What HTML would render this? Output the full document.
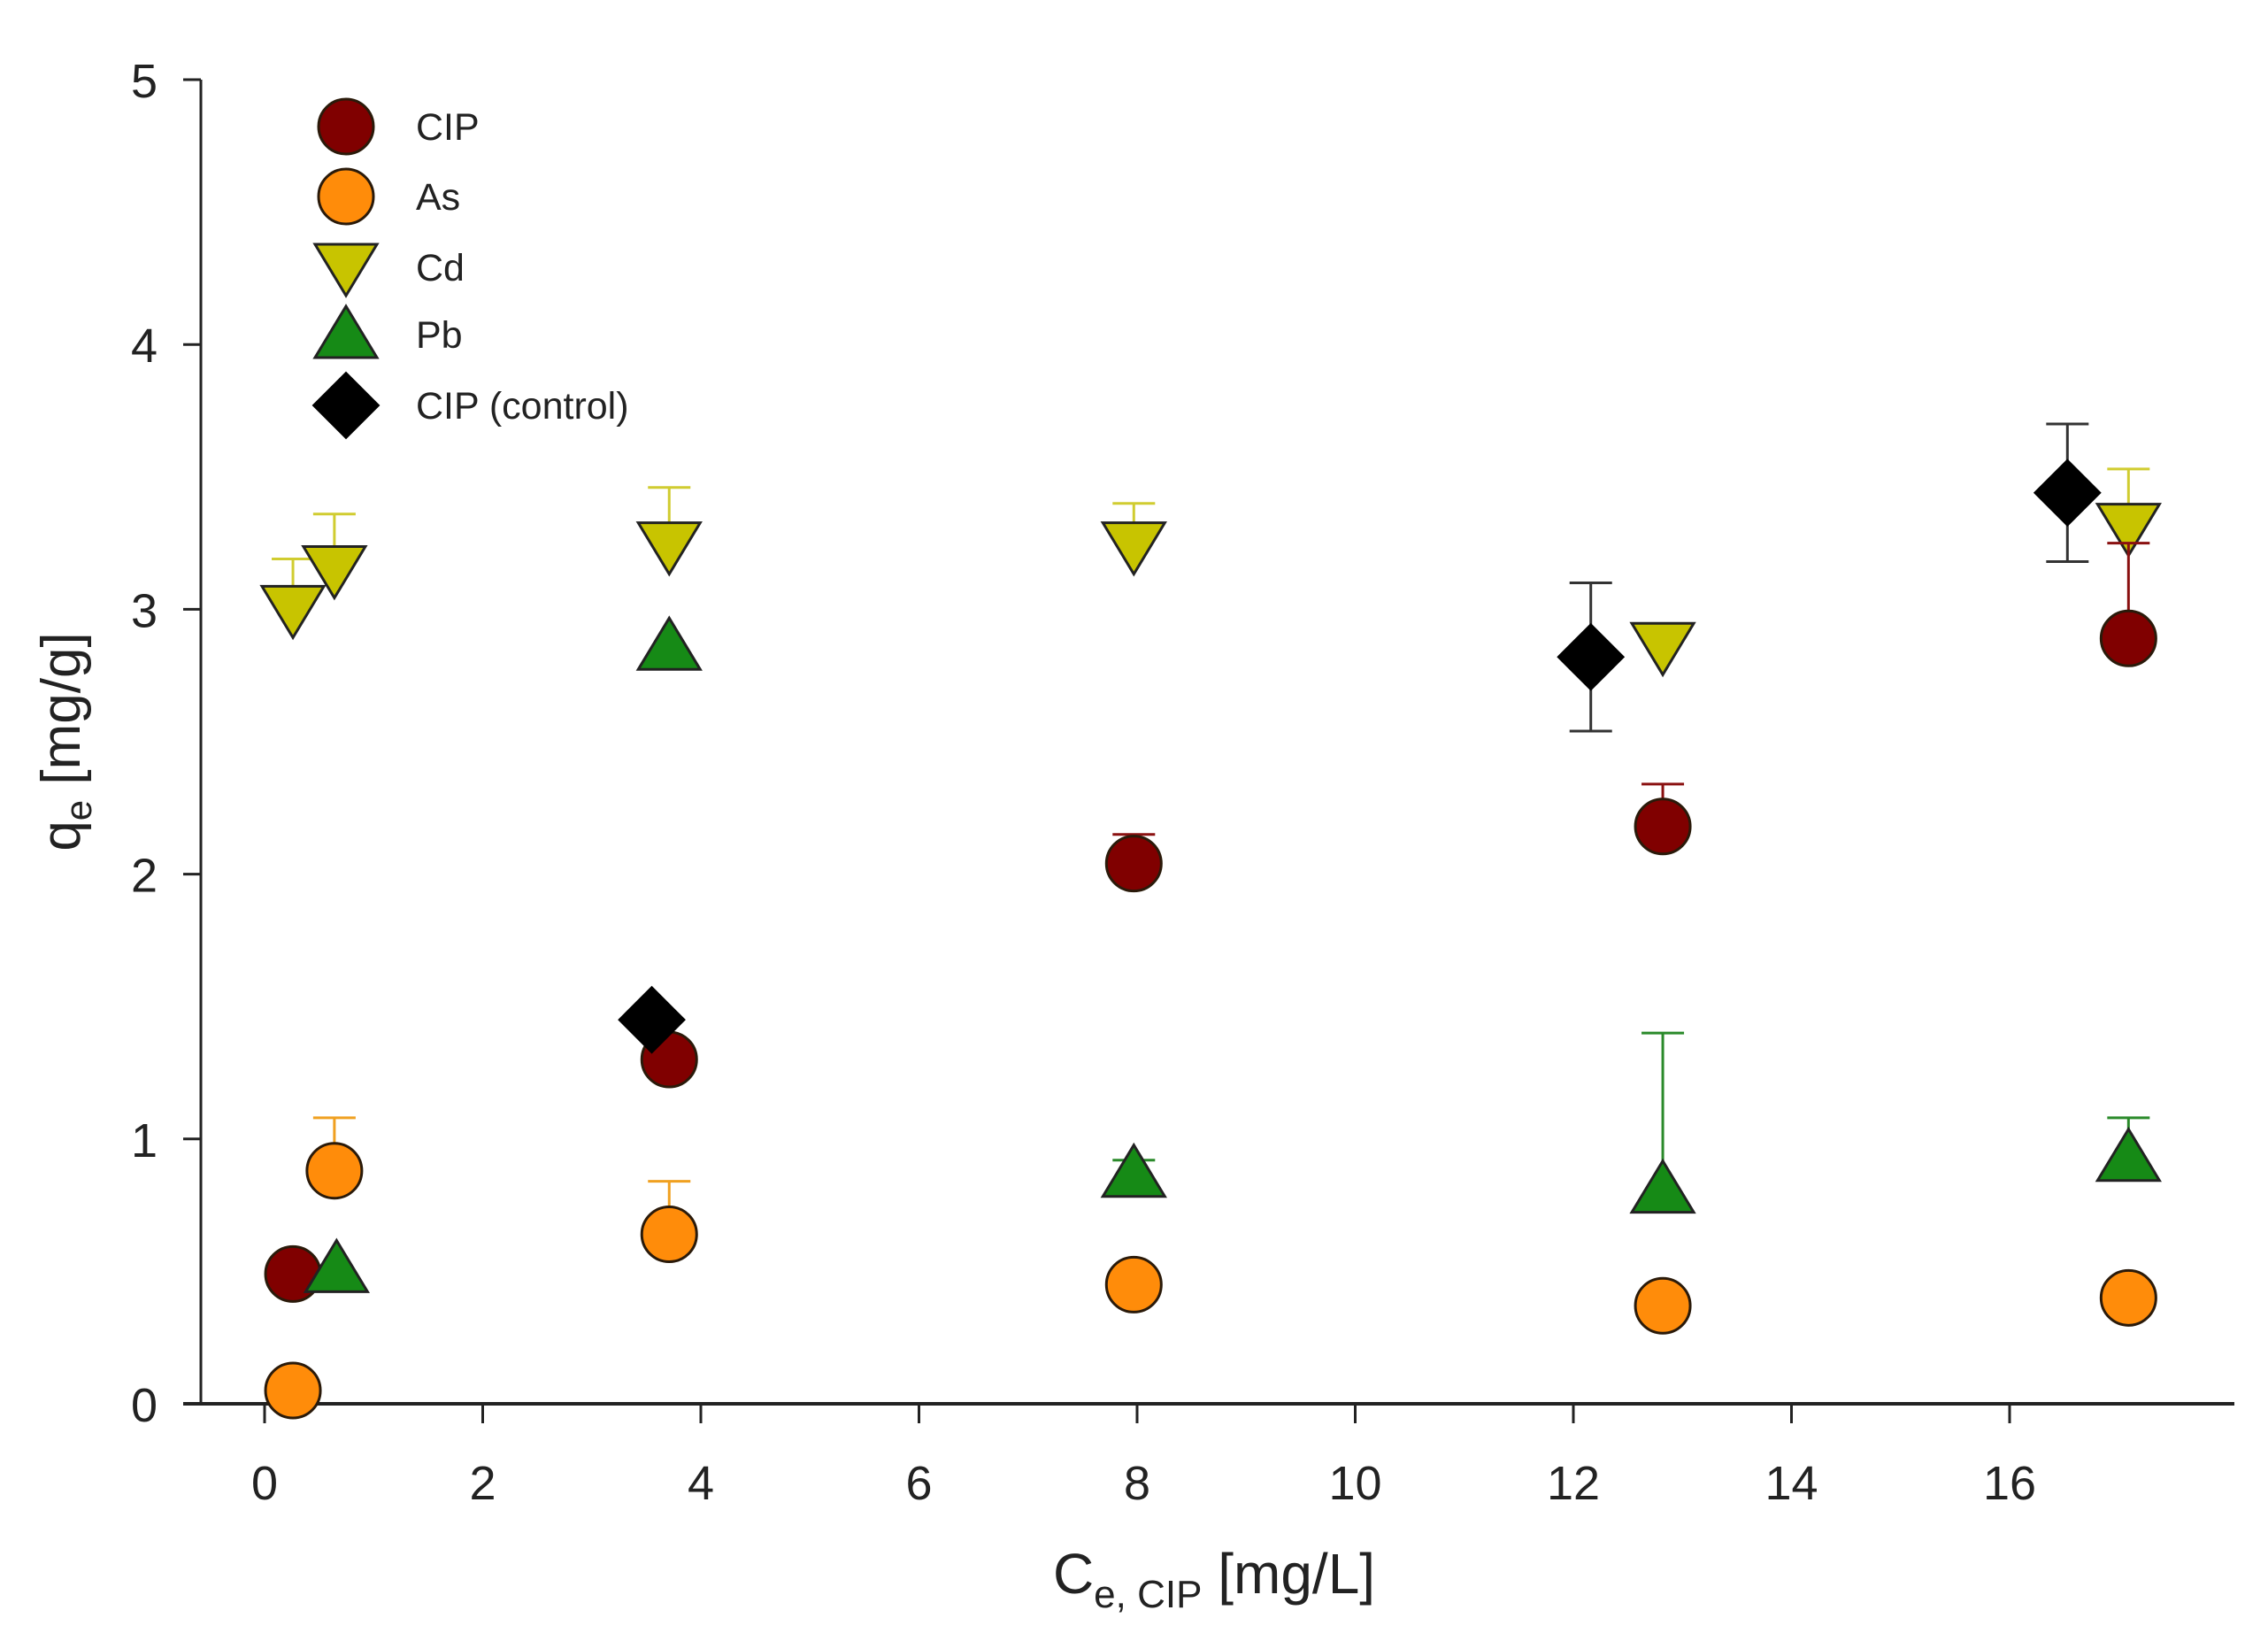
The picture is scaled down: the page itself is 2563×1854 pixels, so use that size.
<!DOCTYPE html>
<html><head><meta charset="utf-8"><style>
html,body{margin:0;padding:0;background:#fff;}
svg{display:block;font-family:"Liberation Sans",Arial,sans-serif;}
</style></head><body>
<svg id="chart" width="2563" height="1854" viewBox="0 0 2563 1854" xmlns="http://www.w3.org/2000/svg">
<g id="axes"></g>
<g id="marks"></g>
<g id="legend"></g>
<text x="1372" y="1800" text-anchor="middle" font-size="64" fill="#222">C<tspan font-size="44" dy="16">e, CIP</tspan><tspan dy="-16"> [mg/L]</tspan></text>
<text transform="translate(90,838) rotate(-90)" text-anchor="middle" font-size="62" fill="#222">q<tspan font-size="42" dy="13">e</tspan><tspan dy="-13"> [mg/g]</tspan></text>
</svg>
<script>
const xTicks=[0,2,4,6,8,10,12,14,16];
const yTicks=[0,1,2,3,4,5];
const cipX=[0.26,3.71,7.97,12.82,17.09];
const cipY=[0.49,1.30,2.04,2.18,2.89];
const cipErr=[0,0,0.11,0.16,0.36];
const asX=[0.26,0.64,3.71,7.97,12.82,17.09];
const asY=[0.05,0.88,0.64,0.45,0.37,0.40];
const asErr=[0,0.20,0.20,0,0,0];
const cdX=[0.26,0.64,3.71,7.97,12.82,17.09];
const cdY=[3.00,3.15,3.24,3.24,2.86,3.31];
const cdErr=[0.19,0.21,0.22,0.16,0,0.22];
const pbX=[0.66,3.71,7.97,12.82,17.09];
const pbY=[0.51,2.86,0.87,0.81,0.93];
const pbErr=[0,0,0.05,0.59,0.15];
const ctlX=[3.55,12.16,16.53];
const ctlY=[1.45,2.82,3.44];
const ctlErr=[0,0.28,0.26];
const legendLabels=["CIP","As","Cd","Pb","CIP (control)"];

const NS="http://www.w3.org/2000/svg";
const X0=227,X1=2525,Y0=1586;
function sx(v){return 299+v*123.25;}
function sy(v){return 1586-v*299.2;}
function mk(tag,attrs,parent){const e=document.createElementNS(NS,tag);for(const k in attrs)e.setAttribute(k,attrs[k]);parent.appendChild(e);return e;}
const axes=document.getElementById('axes'),marks=document.getElementById('marks'),legend=document.getElementById('legend');
let l=mk('line',{x1:X0-20,y1:Y0,x2:X1,y2:Y0,stroke:'#222','stroke-width':4},axes);


l=mk('line',{x1:X0,y1:sy(5),x2:X0,y2:Y0,stroke:'#222','stroke-width':3},axes);


xTicks.forEach(t=>{
 const tk=mk('line',{x1:sx(t),y1:Y0,x2:sx(t),y2:Y0+22,stroke:'#222','stroke-width':3},axes);
 
 
 const tx=mk('text',{x:sx(t),y:1694,'text-anchor':'middle','font-size':54,fill:'#222'},axes);
 tx.textContent=t;
 
 
});
yTicks.forEach(t=>{
 const tk=mk('line',{x1:X0-20,y1:sy(t),x2:X0,y2:sy(t),stroke:'#222','stroke-width':3},axes);
 
 
 const tx=mk('text',{x:178,y:sy(t)+20,'text-anchor':'end','font-size':54,fill:'#222'},axes);
 tx.textContent=t;
 
 
});
function marker(type,cx,cy,fill,parent){
 let e;
 if(type==='circle')e=mk('circle',{cx:cx,cy:cy,r:31,fill:fill,stroke:'#2a1a0a','stroke-width':3},parent);
 else if(type==='down')e=mk('polygon',{points:`${cx-35},${cy-26} ${cx+35},${cy-26} ${cx},${cy+32}`,fill:fill,stroke:'#222','stroke-width':3},parent);
 else if(type==='up')e=mk('polygon',{points:`${cx-35},${cy+26} ${cx+35},${cy+26} ${cx},${cy-32}`,fill:fill,stroke:'#222','stroke-width':3},parent);
 else e=mk('polygon',{points:`${cx-37},${cy} ${cx},${cy-37} ${cx+37},${cy} ${cx},${cy+37}`,fill:fill,stroke:'#000','stroke-width':2},parent);
 return e;
}
function series(name,xs,ys,errs,type,fill,ecol,both){
 const g=mk('g',{},marks);
 
 
 xs.forEach((x,i)=>{
  const cx=sx(x),cy=sy(ys[i]);
  if(errs[i]>0){
   const top=sy(ys[i]+errs[i]),bot=both?sy(ys[i]-errs[i]):cy;
   const el=mk('path',{d:`M${cx},${bot}V${top}M${cx-24},${top}H${cx+24}`+(both?`M${cx-24},${bot}H${cx+24}`:''),stroke:ecol,'stroke-width':3,fill:'none'},g);
   
   
  }
  const m=marker(type,cx,cy,fill,g);
  
  
 });
}
series('cd',cdX,cdY,cdErr,'down','#c8c400','#d0cc30',false);
series('as',asX,asY,asErr,'circle','#ff8c0a','#f0a020',false);
series('cip',cipX,cipY,cipErr,'circle','#800000','#8a1010',false);
series('pb',pbX,pbY,pbErr,'up','#168a16','#2a8a2a',false);
series('cip-control',ctlX,ctlY,ctlErr,'diamond','#000','#333',true);
const legTypes=[['circle','#800000'],['circle','#ff8c0a'],['down','#c8c400'],['up','#168a16'],['diamond','#000']];
const legY=[143,222,302,378,458];
legendLabels.forEach((lab,i)=>{
 const g=mk('g',{},legend);
 
 
 marker(legTypes[i][0],391,legY[i],legTypes[i][1],g);
 const t=mk('text',{x:470,y:legY[i]+15,'font-size':43,fill:'#222'},g);
 t.textContent=lab;
});
</script>
</body></html>
